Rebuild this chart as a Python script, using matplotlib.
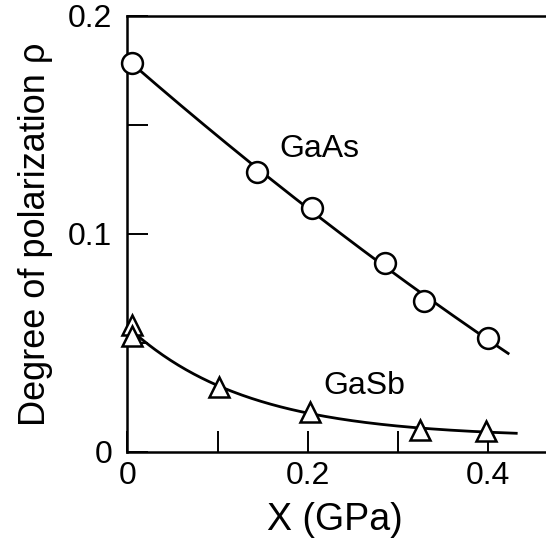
import numpy as np
import matplotlib
matplotlib.use('Agg')
from matplotlib import pyplot as plt
from matplotlib.ticker import MultipleLocator

plt.rcParams['font.family'] = ['Liberation Sans', 'DejaVu Sans']

# GaAs data (circles)
gaas_x = [0.005, 0.144, 0.205, 0.285, 0.329, 0.400]
gaas_y = [0.1783, 0.1286, 0.1118, 0.0865, 0.0692, 0.0521]

# GaSb data (triangles)
gasb_x = [0.005, 0.005, 0.102, 0.202, 0.324, 0.397]
gasb_y = [0.0580, 0.0530, 0.0297, 0.0182, 0.0100, 0.0095]

# smooth guide lines fitted to the points
gaas_fit = np.polyfit(gaas_x, gaas_y, 2)
xa = np.linspace(0.005, 0.422, 200)
ya = np.polyval(gaas_fit, xa)

# GaSb: y = c + b*exp(-x/t), pick t by least squares
gx = np.array(gasb_x)
gy = np.array(gasb_y)
best = None
for t in np.linspace(0.03, 0.4, 200):
    A = np.column_stack([np.ones_like(gx), np.exp(-gx / t)])
    coef, res, _, _ = np.linalg.lstsq(A, gy, rcond=None)
    err = np.sum((A @ coef - gy) ** 2)
    if best is None or err < best[0]:
        best = (err, t, coef)
_, t_b, coef_b = best
xb = np.linspace(0.005, 0.431, 200)
yb = coef_b[0] + coef_b[1] * np.exp(-xb / t_b)

fig = plt.figure(figsize=(5.46, 5.44), dpi=100)
ax = fig.add_axes([0.2335, 0.1697, 1.0 - 0.2335, 0.9706 - 0.1697])

ax.plot(xa, ya, color='black', lw=2.0, zorder=2)
ax.plot(xb, yb, color='black', lw=2.0, zorder=2)
ax.plot(gaas_x, gaas_y, 'o', ms=15, mfc='white', mec='black', mew=1.8,
        ls='none', zorder=3, clip_on=False)
ax.plot(gasb_x, gasb_y, '^', ms=15, mfc='white', mec='black', mew=1.8,
        ls='none', zorder=3, clip_on=False)

ax.text(0.2123, 0.139, 'GaAs', fontsize=23, ha='center', va='center')
ax.text(0.2628, 0.0302, 'GaSb', fontsize=23, ha='center', va='center')

ax.set_xlim(0, 0.464)
ax.set_ylim(0, 0.2)
ax.spines['right'].set_visible(False)
for s in ['left', 'top', 'bottom']:
    ax.spines[s].set_linewidth(1.8)

ax.xaxis.set_major_locator(MultipleLocator(0.2))
ax.xaxis.set_minor_locator(MultipleLocator(0.1))
ax.yaxis.set_major_locator(MultipleLocator(0.1))
ax.yaxis.set_minor_locator(MultipleLocator(0.05))
ax.xaxis.set_major_formatter(plt.FuncFormatter(lambda v, p: '0' if v == 0 else f'{v:g}'))
ax.yaxis.set_major_formatter(plt.FuncFormatter(lambda v, p: '0' if v == 0 else f'{v:g}'))
ax.tick_params(which='both', direction='in', length=15, width=1.4,
               top=False, right=False, labelsize=23)
ax.tick_params(axis='x', pad=7)
ax.tick_params(axis='y', pad=11)

ax.set_xlabel('X (GPa)', fontsize=27)
ax.set_ylabel('Degree of polarization ρ', fontsize=26)
ax.xaxis.set_label_coords(0.495, -0.115)
ax.yaxis.set_label_coords(-0.178, 0.5)

fig.savefig('out.png', dpi=100)
